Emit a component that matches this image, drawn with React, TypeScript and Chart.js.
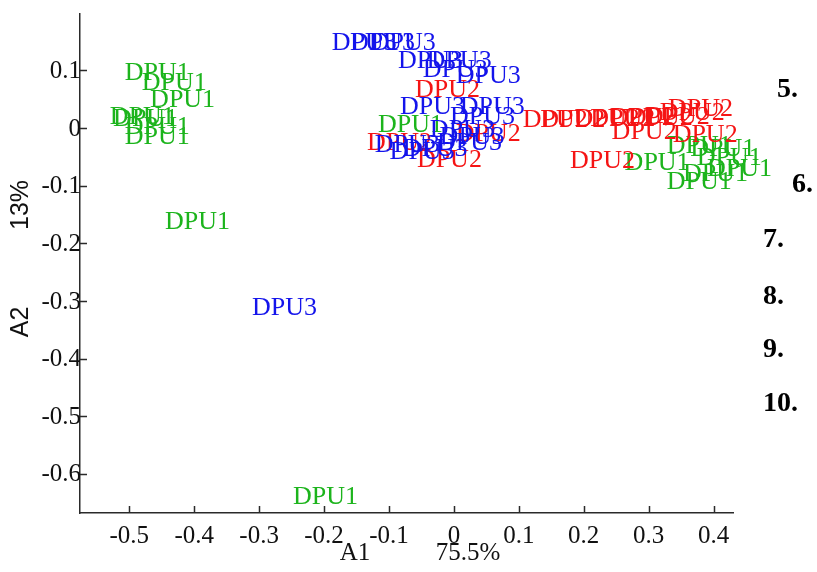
import { useEffect, useRef } from 'react';
import { Chart, registerables } from 'chart.js';

Chart.register(...registerables);

// ---- data (A1, A2 scores; each label is drawn at its point) ----
const DPU1_X = [-0.507, -0.481, -0.468, -0.530, -0.525, -0.507, -0.507, -0.445, -0.248, -0.117, 0.263, 0.328, 0.364, 0.374, 0.390, 0.353, 0.328];
const DPU1_Y = [0.095, 0.078, 0.048, 0.019, 0.015, 0.002, -0.015, -0.164, -0.641, 0.005, -0.061, -0.032, -0.037, -0.053, -0.072, -0.080, -0.094];

const DPU2_X = [-0.060, -0.134, -0.057, 0.003, 0.106, 0.133, 0.186, 0.210, 0.240, 0.268, 0.294, 0.317, 0.330, 0.243, 0.337, 0.179];
const DPU2_Y = [0.066, -0.027, -0.055, -0.010, 0.014, 0.014, 0.015, 0.015, 0.017, 0.017, 0.019, 0.026, 0.032, -0.007, -0.012, -0.058];

const DPU3_X = [-0.188, -0.160, -0.128, -0.086, -0.042, -0.048, 0.003, -0.083, 0.009, -0.006, -0.037, -0.022, -0.026, -0.122, -0.099, -0.079, -0.311];
const DPU3_Y = [0.147, 0.147, 0.147, 0.116, 0.116, 0.101, 0.090, 0.036, 0.036, 0.019, -0.003, -0.015, -0.027, -0.029, -0.041, -0.036, -0.312];

const GROUP_NAMES = ['DPU1', 'DPU2', 'DPU3'];

const X_TICKS = [-0.5, -0.4, -0.3, -0.2, -0.1, 0, 0.1, 0.2, 0.3, 0.4];
const X_TICK_LABELS = ['-0.5', '-0.4', '-0.3', '-0.2', '-0.1', '0', '0.1', '0.2', '0.3', '0.4'];
const Y_TICKS = [0.1, 0, -0.1, -0.2, -0.3, -0.4, -0.5, -0.6];
const Y_TICK_LABELS = ['0.1', '0', '-0.1', '-0.2', '-0.3', '-0.4', '-0.5', '-0.6'];

const X_RANGE = [-0.576, 0.430];
const Y_RANGE = [-0.668, 0.198];

const X_TITLE_PARTS = ['A1', '75.5%'];
const Y_TITLE_PARTS = ['A2', '13%'];
const SIDE_LABELS = ['5.', '6.', '7.', '8.', '9.', '10.'];

// ---- layout / style (not data) ----
const W = 817;
const H = 572;
const COLORS = ['#1cb41c', '#f51414', '#1414eb'];
const SIDE_POS = [
  [777, 90],
  [792, 185],
  [763, 240],
  [763, 297],
  [763, 350],
  [763, 404],
];
const AXIS_COLOR = '#2a2a2a';
const SERIF = '"Liberation Serif", "Times New Roman", serif';
const SANS = '"Liberation Sans", Arial, sans-serif';

const toPoints = (xs: number[], ys: number[]) => xs.map((x, i) => ({ x, y: ys[i] }));

const textPlugin = {
  id: 'pcaText',
  afterDatasetsDraw(chart: any) {
    const ctx = chart.ctx;
    ctx.save();
    ctx.font = `26px ${SERIF}`;
    ctx.textAlign = 'left';
    ctx.textBaseline = 'middle';
    chart.data.datasets.forEach((ds: any, i: number) => {
      const meta = chart.getDatasetMeta(i);
      ctx.fillStyle = ds.borderColor;
      meta.data.forEach((el: any) => ctx.fillText(ds.label, el.x, el.y));
    });
    ctx.restore();
  },
  afterDraw(chart: any) {
    const ctx = chart.ctx;
    const { left, bottom } = chart.chartArea;
    const xs = chart.scales.x;
    const ys = chart.scales.y;
    ctx.save();
    // inward tick marks
    ctx.strokeStyle = AXIS_COLOR;
    ctx.lineWidth = 1.5;
    ctx.beginPath();
    X_TICKS.forEach((v) => {
      const px = Math.round(xs.getPixelForValue(v)) + 0.5;
      ctx.moveTo(px, bottom);
      ctx.lineTo(px, bottom - 7);
    });
    Y_TICKS.forEach((v) => {
      const py = Math.round(ys.getPixelForValue(v)) + 0.5;
      ctx.moveTo(left, py);
      ctx.lineTo(left + 7, py);
    });
    ctx.stroke();

    // axis titles
    ctx.fillStyle = '#111';
    ctx.textAlign = 'center';
    ctx.textBaseline = 'middle';
    ctx.font = `25px ${SERIF}`;
    ctx.fillText(X_TITLE_PARTS[0], 355, 553);
    ctx.fillText(X_TITLE_PARTS[1], 468, 553);

    ctx.font = `25px ${SANS}`;
    ctx.save();
    ctx.translate(21, 322);
    ctx.rotate(-Math.PI / 2);
    ctx.fillText(Y_TITLE_PARTS[0], 0, 0);
    ctx.restore();
    ctx.save();
    ctx.translate(21, 205);
    ctx.rotate(-Math.PI / 2);
    ctx.fillText(Y_TITLE_PARTS[1], 0, 0);
    ctx.restore();

    // side numbers
    ctx.fillStyle = '#000';
    ctx.textAlign = 'left';
    ctx.font = `bold 28px ${SERIF}`;
    SIDE_LABELS.forEach((t, i) => ctx.fillText(t, SIDE_POS[i][0], SIDE_POS[i][1]));
    ctx.restore();
  },
};

export default function App() {
  const ref = useRef<HTMLCanvasElement | null>(null);

  useEffect(() => {
    if (!ref.current) return;
    const chart = new Chart(ref.current, {
      type: 'scatter',
      data: {
        datasets: [
          { label: GROUP_NAMES[0], data: toPoints(DPU1_X, DPU1_Y), borderColor: COLORS[0], backgroundColor: COLORS[0], pointRadius: 0 },
          { label: GROUP_NAMES[1], data: toPoints(DPU2_X, DPU2_Y), borderColor: COLORS[1], backgroundColor: COLORS[1], pointRadius: 0 },
          { label: GROUP_NAMES[2], data: toPoints(DPU3_X, DPU3_Y), borderColor: COLORS[2], backgroundColor: COLORS[2], pointRadius: 0 },
        ],
      },
      options: {
        responsive: false,
        animation: false,
        layout: { padding: { left: 0, top: 5, right: W - 733, bottom: 0 } },
        plugins: { legend: { display: false }, tooltip: { enabled: false } },
        scales: {
          x: {
            type: 'linear',
            min: X_RANGE[0],
            max: X_RANGE[1],
            grid: { display: false, drawTicks: false },
            border: { display: true, color: AXIS_COLOR, width: 1.5 },
            afterBuildTicks: (s: any) => {
              s.ticks = X_TICKS.map((v) => ({ value: v }));
            },
            afterFit: (s: any) => {
              s.height = H - 513;
            },
            ticks: {
              color: '#111',
              padding: 8,
              maxRotation: 0,
              autoSkip: false,
              font: { family: SERIF, size: 25 },
              callback: (v: any) => {
                const i = X_TICKS.findIndex((t) => Math.abs(t - v) < 1e-9);
                return i >= 0 ? X_TICK_LABELS[i] : '';
              },
            },
          },
          y: {
            type: 'linear',
            min: Y_RANGE[0],
            max: Y_RANGE[1],
            grid: { display: false, drawTicks: false },
            border: { display: true, color: AXIS_COLOR, width: 1.5 },
            afterBuildTicks: (s: any) => {
              s.ticks = Y_TICKS.map((v) => ({ value: v }));
            },
            afterFit: (s: any) => {
              s.width = 80;
            },
            ticks: {
              color: '#111',
              padding: -1,
              labelOffset: 1,
              autoSkip: false,
              font: { family: SERIF, size: 25 },
              callback: (v: any) => {
                const i = Y_TICKS.findIndex((t) => Math.abs(t - v) < 1e-9);
                return i >= 0 ? Y_TICK_LABELS[i] : '';
              },
            },
          },
        },
      },
      plugins: [textPlugin],
    } as any);
    return () => chart.destroy();
  }, []);

  return (
    <div style={{ position: 'absolute', left: 0, top: 0, width: W, height: H, background: '#fff' }}>
      <canvas ref={ref} width={W} height={H} style={{ display: 'block', width: W, height: H }} />
    </div>
  );
}
